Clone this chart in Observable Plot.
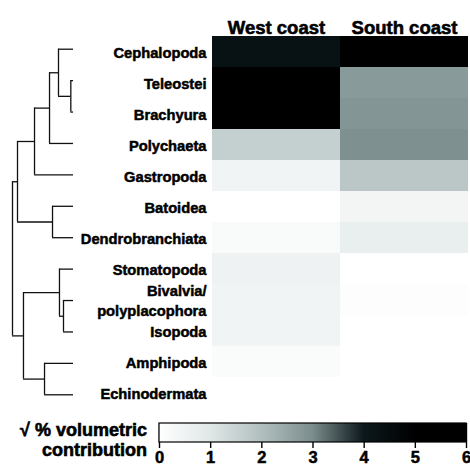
<!DOCTYPE html>
<html>
<head>
<meta charset="utf-8">
<script src="https://cdn.jsdelivr.net/npm/d3@7"></script>
<script src="https://cdn.jsdelivr.net/npm/@observablehq/plot@0.6"></script>
<style>
  html, body { margin: 0; padding: 0; background: #fff; }
  #wrap { position: relative; width: 470px; height: 475px; font-family: "Liberation Sans", Arial, sans-serif; font-weight: bold; }
  #wrap > div, #wrap > svg { position: absolute; }
  #title { left: 0; width: 147px; top: 420px; text-align: right; font-size: 18px; line-height: 20px; color: #000; -webkit-text-stroke: 0.6px #000; }
</style>
</head>
<body>
<div id="wrap"></div>
<script>
// ---- data ----
const species = ["Cephalopoda", "Teleostei", "Brachyura", "Polychaeta", "Gastropoda", "Batoidea",
  "Dendrobranchiata", "Stomatopoda", "Bivalvia/\npolyplacophora", "Isopoda", "Amphipoda", "Echinodermata"];
const coasts = ["West coast", "South coast"];
const westValues  = [4.3, 5.3, 5.2, 1.6, 0.45, 0.0, 0.2, 0.55, 0.45, 0.45, 0.15, 0.0];
const southValues = [5.5, 2.75, 2.85, 2.95, 1.8, 0.4, 0.7, 0.0, 0.08, 0.0, 0.0, 0.0];

// colour legend stops
const legendTicks = [0, 1, 2, 3, 4, 5, 6];
const legendColors = ["#ffffff", "#e0e7e7", "#b2bfbf", "#7b8d8d", "#0c181c", "#000000", "#000000"];
const legendTitle = ["\u221A % volumetric", "contribution"];

// dendrogram merges (leaf ids 0..11 follow species order; new nodes get ids 12,13,...)
const mergeLeft   = [1, 0, 13, 14, 5, 15, 8, 7, 10, 19, 17];
const mergeRight  = [2, 12, 3, 4, 6, 16, 9, 18, 11, 20, 21];
const mergeHeight = [0.044, 0.246, 0.393, 0.639, 0.344, 0.918, 0.164, 0.23, 0.475, 0.82, 1.0];

// ---- build tables ----
const cells = [];
species.forEach((s, i) => {
  cells.push({coast: coasts[0], species: s, value: westValues[i]});
  cells.push({coast: coasts[1], species: s, value: southValues[i]});
});

const nodeY = species.map((s, i) => i);
const nodeH = species.map(() => 0);
const verticals = [], horizontals = [];
mergeLeft.forEach((l, k) => {
  const r = mergeRight[k], h = mergeHeight[k];
  verticals.push({h, y1: nodeY[l], y2: nodeY[r]});
  horizontals.push({y: nodeY[l], h1: h, h2: nodeH[l]});
  horizontals.push({y: nodeY[r], h1: h, h2: nodeH[r]});
  nodeY.push((nodeY[l] + nodeY[r]) / 2);
  nodeH.push(h);
});

const colorScale = {type: "linear", domain: legendTicks, range: legendColors, interpolate: "rgb"};
const font = {fontFamily: "Liberation Sans, Arial, sans-serif", fontWeight: "bold"};

const H = 412, MT = 33, MB = 2;

// ---- heatmap ----
const heat = Plot.plot({
  width: 470, height: H,
  marginTop: MT, marginBottom: MB, marginLeft: 211, marginRight: 2,
  style: {background: "transparent", ...font},
  x: {domain: coasts, padding: 0, axis: null},
  y: {domain: species, padding: 0, axis: null},
  color: colorScale,
  marks: [
    Plot.cell(cells, {x: "coast", y: "species", fill: "value", inset: 0, shapeRendering: "crispEdges"}),
    Plot.text(species, {y: d => d, text: d => d, frameAnchor: "left", textAnchor: "end", dx: -5,
      fontSize: 14.7, fontWeight: "bold", lineHeight: 1.35, fill: "#000", stroke: "#000", strokeWidth: 0.5}),
    Plot.text(coasts, {x: d => d, text: d => d, frameAnchor: "top", dy: -13,
      fontSize: 18.5, fontWeight: "bold", fill: "#000", stroke: "#000", strokeWidth: 0.6})
  ]
});
heat.style.left = "0px"; heat.style.top = "0px";

// ---- dendrogram ----
const dendro = Plot.plot({
  width: 80, height: H,
  marginTop: MT, marginBottom: MB, marginLeft: 0, marginRight: 0,
  style: {background: "transparent"},
  x: {domain: [1, 0], range: [12, 73], axis: null},
  y: {domain: [-0.5, species.length - 0.5], reverse: true, axis: null},
  marks: [
    Plot.ruleX(verticals, {x: "h", y1: "y1", y2: "y2", stroke: "#111", strokeWidth: 1.3}),
    Plot.ruleY(horizontals, {y: "y", x1: "h1", x2: "h2", stroke: "#111", strokeWidth: 1.3})
  ]
});
dendro.style.left = "0px"; dendro.style.top = "0px";

// ---- colour legend ----
const legW = 470, legH = 475 - H, barTop = 11, barH = 19, tickLen = 6;
const gradId = "rampGrad";
const defs = () => {
  const ns = "http://www.w3.org/2000/svg";
  const d = document.createElementNS(ns, "defs");
  const g = document.createElementNS(ns, "linearGradient");
  g.setAttribute("id", gradId);
  g.setAttribute("x1", "0"); g.setAttribute("x2", "1"); g.setAttribute("y1", "0"); g.setAttribute("y2", "0");
  const lo = legendTicks[0], hi = legendTicks[legendTicks.length - 1];
  legendTicks.forEach((t, i) => {
    const st = document.createElementNS(ns, "stop");
    st.setAttribute("offset", String((t - lo) / (hi - lo)));
    st.setAttribute("stop-color", legendColors[i]);
    g.appendChild(st);
  });
  d.appendChild(g);
  return d;
};
const legend = Plot.plot({
  width: legW, height: legH,
  marginTop: barTop, marginBottom: legH - barTop - barH - tickLen, marginLeft: 159, marginRight: 4,
  style: {background: "transparent", ...font, color: "#000"},
  x: {domain: [legendTicks[0], legendTicks[legendTicks.length - 1]], axis: null},
  marks: [
    defs,
    Plot.tickX(legendTicks, {x: d => d, stroke: "#000", strokeWidth: 1.4}),
    Plot.rect([legendTicks], {x1: d => d[0], x2: d => d[d.length - 1], insetBottom: tickLen,
      fill: `url(#${gradId})`, stroke: "#000", strokeWidth: 1.2}),
    Plot.text(legendTicks, {x: d => d, text: d => String(d), frameAnchor: "bottom", lineAnchor: "top", dy: 3,
      fontSize: 16.5, fontWeight: "bold", fill: "#000", stroke: "#000", strokeWidth: 0.5})
  ]
});
legend.style.left = "0px"; legend.style.top = H + "px";

const wrap = document.getElementById("wrap");
wrap.appendChild(heat);
wrap.appendChild(dendro);
wrap.appendChild(legend);

const title = document.createElement("div");
title.id = "title";
title.innerHTML = legendTitle.join("<br>");
wrap.appendChild(title);
</script>
</body>
</html>
